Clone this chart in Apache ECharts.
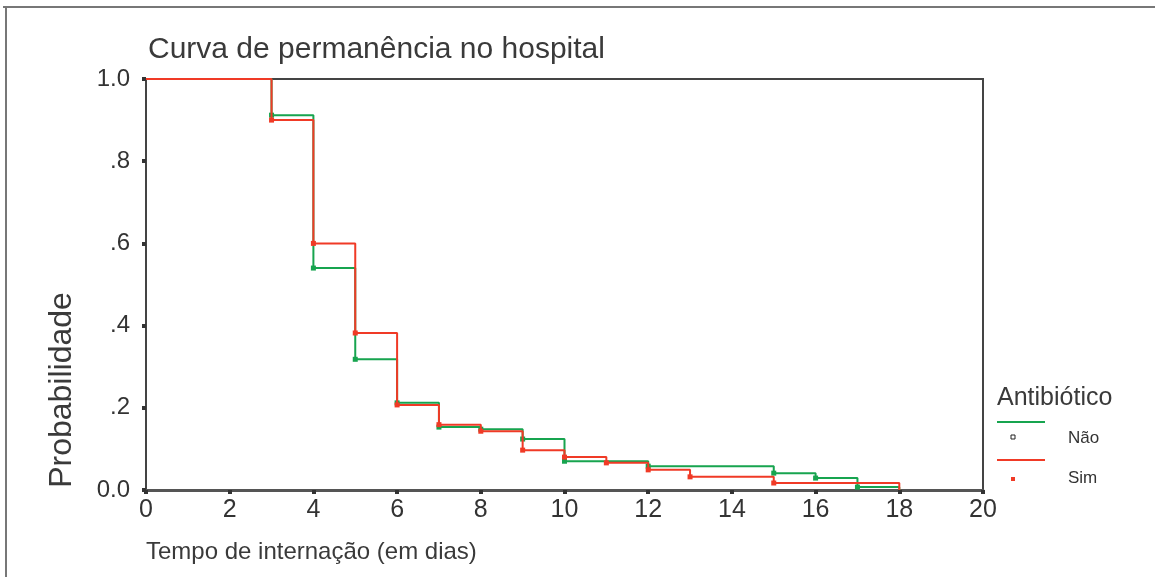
<!DOCTYPE html>
<html>
<head>
<meta charset="utf-8">
<script src="https://cdn.jsdelivr.net/npm/echarts@6/dist/echarts.min.js"></script>
<style>
  html, body { margin: 0; padding: 0; background: #fff; }
  #chart { width: 1155px; height: 577px; }
</style>
</head>
<body>
<div id="chart"></div>
<script>
// dados (Kaplan-Meier, probabilidade de permanência)
const naoDias = [0, 3, 4, 5, 6, 7, 8, 9, 10, 12, 15, 16, 17, 18];
const naoProb = [1, 0.912, 0.54, 0.318, 0.212, 0.153, 0.148, 0.124, 0.07, 0.058, 0.041, 0.029, 0.007, 0];
const simDias = [0, 3, 4, 5, 6, 7, 8, 9, 10, 11, 12, 13, 15, 18];
const simProb = [1, 0.9, 0.6, 0.382, 0.207, 0.159, 0.143, 0.097, 0.08, 0.066, 0.049, 0.032, 0.017, 0];
const xTicks = [0, 2, 4, 6, 8, 10, 12, 14, 16, 18, 20];
const yTicks = ["0.0", ".2", ".4", ".6", ".8", "1.0"];

const verde = "#17a44f";
const vermelho = "#f03a26";
const fonte = "'Liberation Sans', Arial, sans-serif";

function pontos(dias, prob) {
  return dias.map((d, i) => ({
    value: [d, prob[i]],
    // sem marcador no ponto inicial nem no final
    symbolSize: i === 0 || i === dias.length - 1 ? 0 : 5,
  }));
}

const myChart = echarts.init(document.getElementById("chart"));
const option = {
  animation: false,
  backgroundColor: "#fff",
  title: {
    text: "Curva de permanência no hospital",
    left: 143,
    top: 30,
    textStyle: { fontFamily: fonte, fontSize: 30, fontWeight: "normal", color: "#3a3a3a" },
  },
  grid: {
    left: 146,
    right: 172,
    top: 79,
    bottom: 87,
    show: true,
    borderColor: "#444",
    borderWidth: 2,
  },
  xAxis: {
    type: "value",
    min: 0,
    max: 20,
    interval: 2,
    name: "Tempo de internação (em dias)",
    nameLocation: "start",
    nameGap: 0,
    nameTextStyle: {
      fontFamily: fonte,
      fontSize: 24,
      color: "#3a3a3a",
      align: "left",
      verticalAlign: "top",
      padding: [50, 0, 0, 0],
    },
    axisLine: { lineStyle: { color: "#555", width: 3 } },
    axisTick: { length: 4, lineStyle: { color: "#333", width: 4 } },
    axisLabel: {
      fontFamily: fonte,
      fontSize: 25,
      color: "#333",
      margin: 8,
      formatter: (v) => (xTicks.indexOf(v) >= 0 ? String(v) : ""),
    },
    splitLine: { show: false },
  },
  yAxis: {
    type: "value",
    min: 0,
    max: 1,
    interval: 0.2,
    axisLine: { lineStyle: { color: "#444", width: 2 } },
    axisTick: { length: 4, lineStyle: { color: "#333", width: 4 } },
    axisLabel: {
      fontFamily: fonte,
      fontSize: 24,
      color: "#333",
      margin: 16,
      formatter: (v) => yTicks[Math.round(v * 5)],
    },
    splitLine: { show: false },
  },
  series: [
    {
      name: "Não",
      type: "line",
      step: "end",
      data: pontos(naoDias, naoProb),
      symbol: "rect",
      lineStyle: { color: verde, width: 2 },
      itemStyle: { color: verde },
      z: 2,
    },
    {
      name: "Sim",
      type: "line",
      step: "end",
      data: pontos(simDias, simProb),
      symbol: "rect",
      lineStyle: { color: vermelho, width: 2 },
      itemStyle: { color: vermelho },
      z: 3,
    },
  ],
  graphic: [
    // moldura externa
    { type: "line", shape: { x1: 3, y1: 7, x2: 1155, y2: 7 }, style: { stroke: "#777", lineWidth: 2 } },
    { type: "line", shape: { x1: 6, y1: 7, x2: 6, y2: 577 }, style: { stroke: "#777", lineWidth: 2 } },
    // título do eixo y (deslocado para baixo como no original)
    {
      type: "text", x: 62, y: 390, rotation: Math.PI / 2,
      style: {
        text: "Probabilidade", fontFamily: fonte, fontSize: 32, fill: "#3a3a3a",
        align: "center", verticalAlign: "middle",
      },
    },
    // legenda
    {
      type: "text", left: 997, top: 386,
      style: { text: "Antibiótico", fontFamily: fonte, fontSize: 25, fill: "#3a3a3a" },
    },
    { type: "line", shape: { x1: 997, y1: 422, x2: 1045, y2: 422 }, style: { stroke: verde, lineWidth: 2 } },
    { type: "rect", shape: { x: 1011, y: 435, width: 4, height: 4 }, style: { fill: "#fff", stroke: "#222", lineWidth: 1 } },
    {
      type: "text", left: 1068, top: 430,
      style: { text: "Não", fontFamily: fonte, fontSize: 17, fill: "#333" },
    },
    { type: "line", shape: { x1: 997, y1: 460, x2: 1045, y2: 460 }, style: { stroke: vermelho, lineWidth: 2 } },
    { type: "rect", shape: { x: 1011, y: 477, width: 4, height: 4 }, style: { fill: vermelho } },
    {
      type: "text", left: 1068, top: 470,
      style: { text: "Sim", fontFamily: fonte, fontSize: 17, fill: "#333" },
    },
  ],
};
myChart.setOption(option);
</script>
</body>
</html>
